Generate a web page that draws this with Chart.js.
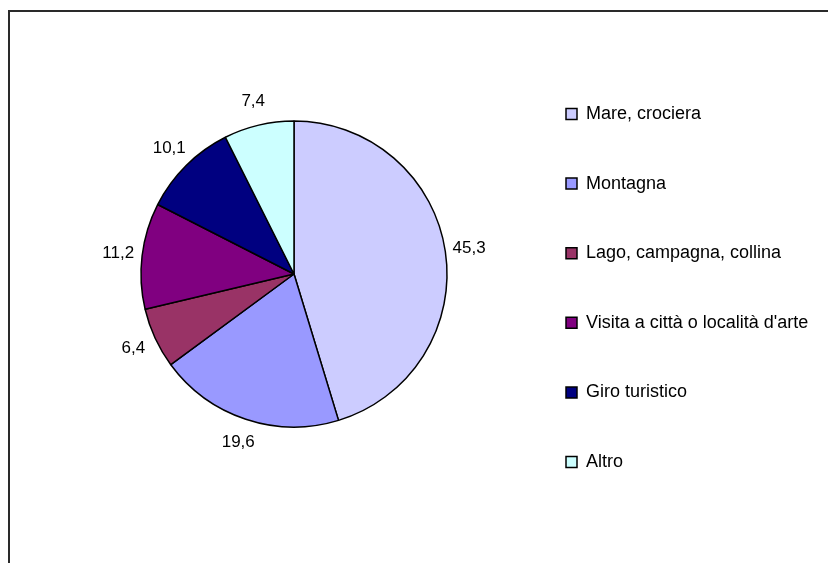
<!DOCTYPE html>
<html>
<head>
<meta charset="utf-8">
<script src="https://cdn.jsdelivr.net/npm/chart.js@4/dist/chart.umd.min.js"></script>
<style>
  html, body { margin: 0; padding: 0; background: #fff; overflow: hidden; }
  #wrap { position: relative; width: 828px; height: 563px; overflow: hidden; }
  #frame { position: absolute; left: 8px; top: 10px; width: 2000px; height: 2000px;
           border-left: 2px solid #2a2a2a; border-top: 2px solid #2a2a2a; }
  #c { position: absolute; left: 0; top: 0; }
</style>
</head>
<body>
<div id="wrap">
  <div id="frame"></div>
  <canvas id="c" width="828" height="563"></canvas>
</div>
<script>
const categories = ["Mare, crociera", "Montagna", "Lago, campagna, collina", "Visita a città o località d'arte", "Giro turistico", "Altro"];
const values = [45.3, 19.6, 6.4, 11.2, 10.1, 7.4];
const sliceColors = ["#CCCCFF", "#9999FF", "#993366", "#800080", "#000080", "#CCFFFF"];

const FONT = "'Liberation Sans', Arial, sans-serif";

const outsideLabels = {
  id: 'outsideLabels',
  afterDatasetsDraw(chart) {
    const ctx = chart.ctx;
    const meta = chart.getDatasetMeta(0);
    const data = chart.data.datasets[0].data;
    ctx.save();
    ctx.font = "17px " + FONT;
    ctx.fillStyle = "#000";
    ctx.textAlign = "center";
    ctx.textBaseline = "middle";
    meta.data.forEach((arc, i) => {
      const p = arc.getProps(['x', 'y', 'startAngle', 'endAngle', 'outerRadius'], true);
      const mid = (p.startAngle + p.endAngle) / 2;
      const d = p.outerRadius + 24;
      const x = p.x + Math.cos(mid) * d;
      const y = p.y + Math.sin(mid) * d;
      ctx.fillText(data[i].toFixed(1).replace('.', ','), x, y);
    });
    ctx.restore();
  }
};

new Chart(document.getElementById('c'), {
  type: 'pie',
  data: {
    labels: categories,
    datasets: [{
      data: values,
      backgroundColor: sliceColors,
      borderColor: "#000",
      borderWidth: 1.5,
      radius: 153
    }]
  },
  options: {
    responsive: false,
    animation: false,
    devicePixelRatio: 1,
    layout: { padding: { left: 73.6, right: 13.6, top: 0, bottom: 15 } },
    plugins: {
      tooltip: { enabled: false },
      legend: {
        position: 'right',
        align: 'center',
        maxWidth: 300,
        title: { display: true, text: '', font: { size: 10 }, padding: { top: 16, bottom: 0 } },
        labels: {
          boxWidth: 11,
          boxHeight: 11,
          padding: 51.6,
          color: "#000",
          font: { size: 18, family: FONT }
        }
      }
    }
  },
  plugins: [outsideLabels]
});
</script>
</body>
</html>
